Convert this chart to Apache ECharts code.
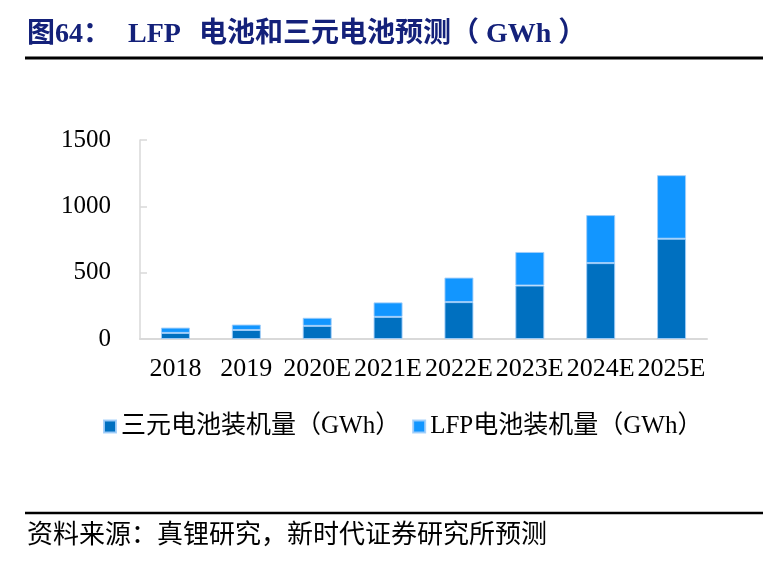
<!DOCTYPE html>
<html style="height: 100%">

<head>
    <meta charset="utf-8">
</head>

<body style="height: 100%; margin: 0; background: #fff">
    <div id="container" style="width: 776px; height: 570px"></div>
    <script type="text/javascript" src="https://cdn.jsdelivr.net/npm/echarts@6/dist/echarts.min.js"></script>
    <script type="text/javascript">
        // 数据
        var years = ['2018', '2019', '2020E', '2021E', '2022E', '2023E', '2024E', '2025E'];
        var ncmValues = [46, 68, 99, 167, 278, 403, 572, 756];
        var lfpValues = [40, 41, 61, 109, 185, 253, 362, 479];
        var seriesNames = ['三元电池装机量（GWh）', 'LFP电池装机量（GWh）'];

        var serif = "'Liberation Serif', 'Noto Sans CJK SC'";
        var titleColor = '#14217a';

        var dom = document.getElementById("container");
        var myChart = echarts.init(dom);

        var barStyle = function (color) {
            return {
                color: color,
                borderColor: 'rgba(160,205,250,0.9)',
                borderWidth: 1
            };
        };

        var option = {
            animation: false,
            backgroundColor: '#fff',
            grid: {
                left: 140,
                right: 69,
                top: 140,
                bottom: 231
            },
            legend: {
                data: seriesNames,
                left: 98,
                top: 409,
                icon: 'rect',
                itemWidth: 12,
                itemHeight: 12,
                itemGap: 12,
                textStyle: {
                    fontFamily: serif,
                    fontSize: 25,
                    color: '#000'
                }
            },
            xAxis: {
                type: 'category',
                data: years,
                axisLine: {
                    lineStyle: { color: '#d9d9d9', width: 2 }
                },
                axisTick: { show: false },
                axisLabel: {
                    interval: 0,
                    margin: 17,
                    fontFamily: serif,
                    fontSize: 26,
                    color: '#000'
                }
            },
            yAxis: {
                type: 'value',
                min: 0,
                max: 1500,
                interval: 500,
                splitLine: { show: false },
                axisLine: {
                    show: true,
                    lineStyle: { color: '#d9d9d9', width: 1.5 }
                },
                axisTick: {
                    show: true,
                    inside: true,
                    length: 7,
                    lineStyle: { color: '#d9d9d9', width: 1.5 }
                },
                axisLabel: {
                    margin: 29,
                    fontFamily: serif,
                    fontSize: 25,
                    color: '#000',
                    formatter: function (v) { return String(v); }
                }
            },
            series: [
                {
                    name: seriesNames[0],
                    type: 'bar',
                    stack: 'total',
                    barWidth: 29,
                    data: ncmValues,
                    itemStyle: barStyle('#0070c0')
                },
                {
                    name: seriesNames[1],
                    type: 'bar',
                    stack: 'total',
                    barWidth: 29,
                    data: lfpValues,
                    itemStyle: barStyle('#1296ff')
                }
            ],
            graphic: [
                {
                    type: 'text', left: 27, top: 21,
                    style: { text: '图64：', font: 'bold 28px ' + serif, fill: titleColor }
                },
                {
                    type: 'text', left: 128, top: 21,
                    style: { text: 'LFP', font: 'bold 28px ' + serif, fill: titleColor }
                },
                {
                    type: 'text', left: 199, top: 21,
                    style: { text: '电池和三元电池预测（ GWh ）', font: 'bold 28px ' + serif, fill: titleColor }
                },
                {
                    type: 'line',
                    shape: { x1: 25, y1: 58, x2: 763, y2: 58 },
                    style: { stroke: '#000', lineWidth: 3 }
                },
                {
                    type: 'line',
                    shape: { x1: 25, y1: 513, x2: 763, y2: 513 },
                    style: { stroke: '#000', lineWidth: 2.5 }
                },
                {
                    type: 'text', left: 27, top: 523,
                    style: { text: '资料来源：真锂研究，新时代证券研究所预测', font: '26px ' + serif, fill: '#000' }
                }
            ]
        };

        myChart.setOption(option, true);
    </script>
</body>

</html>
